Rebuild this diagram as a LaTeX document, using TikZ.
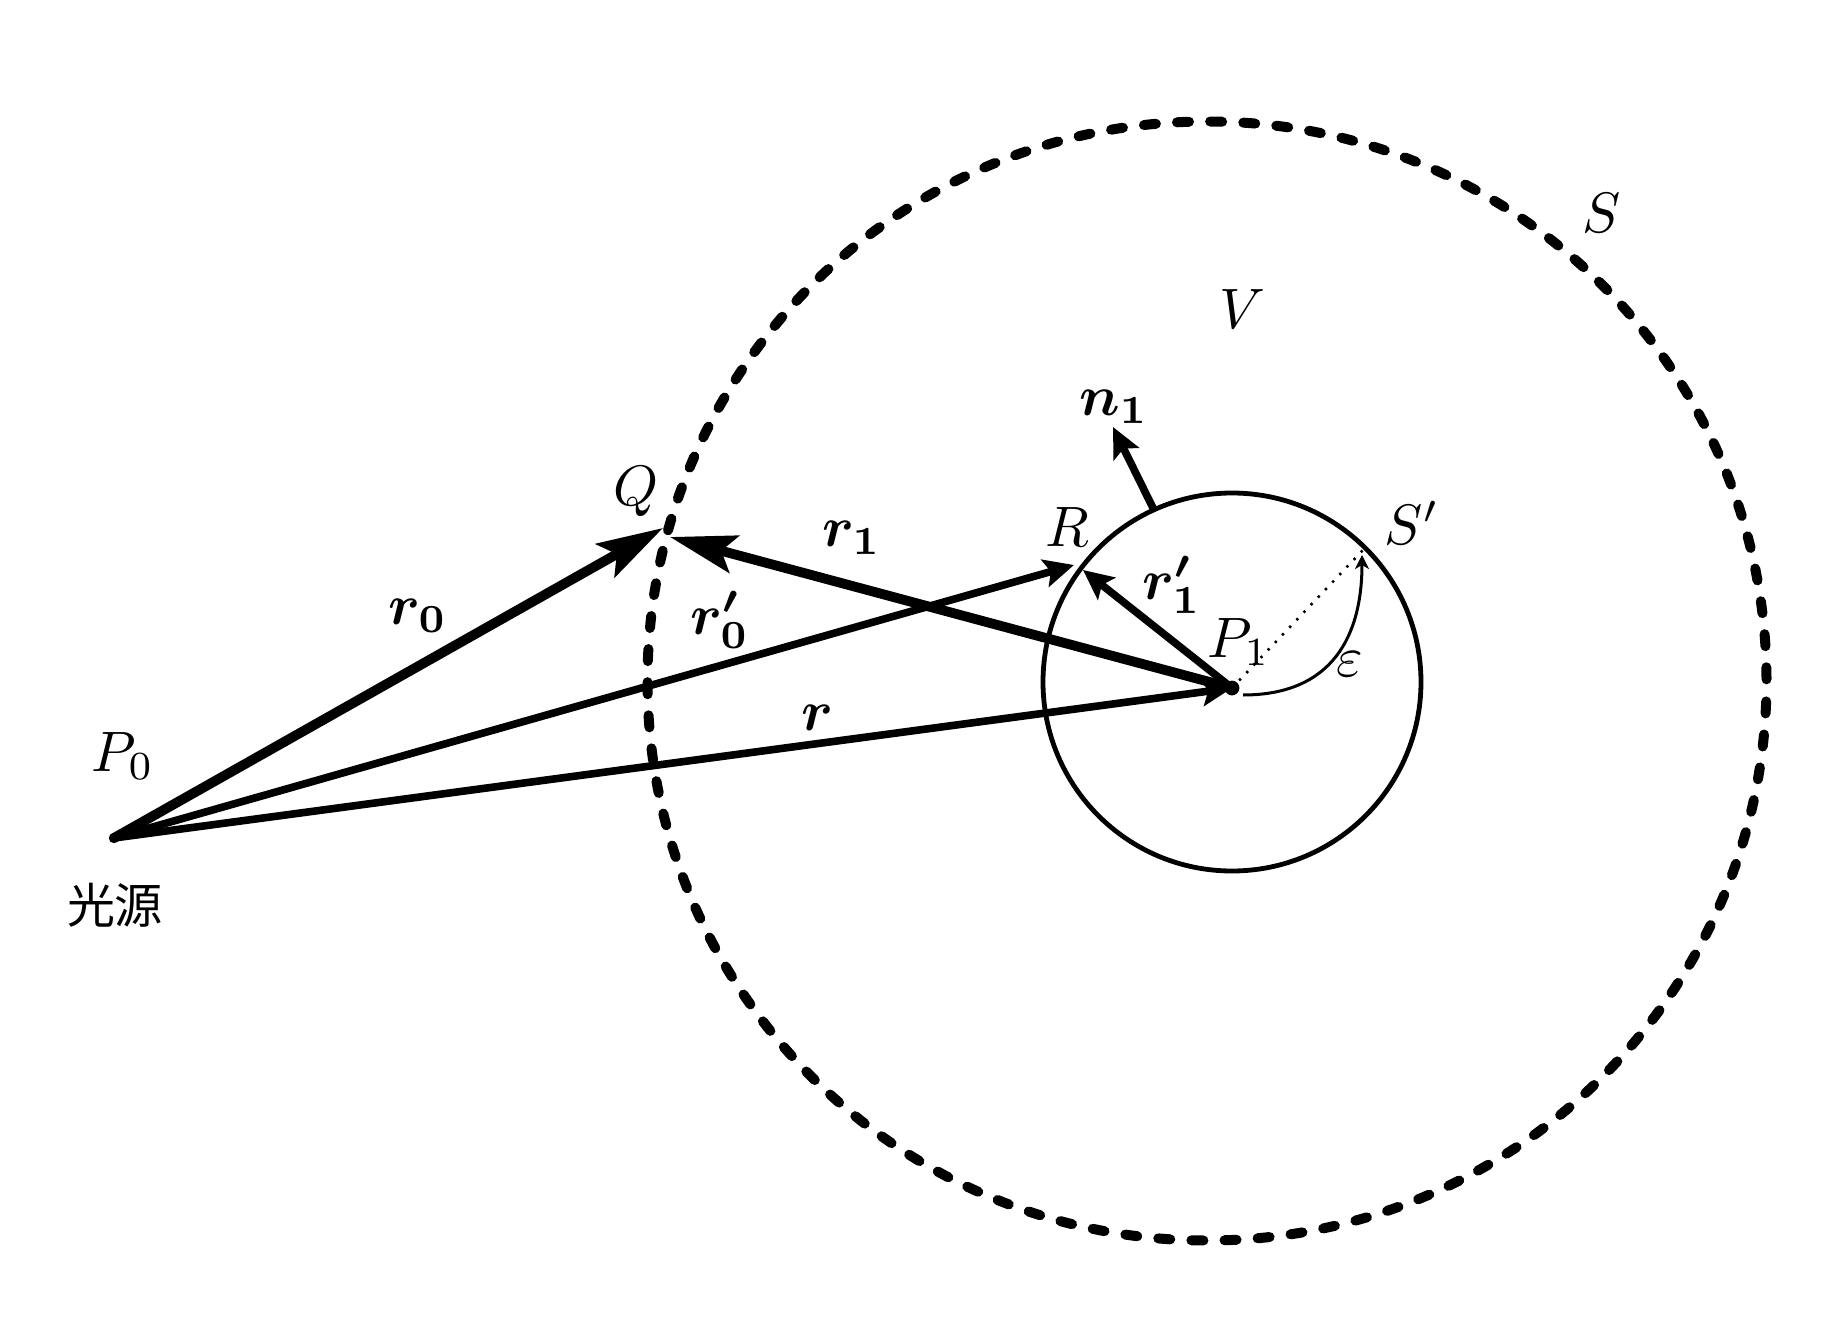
\documentclass[tikz,border=0pt]{standalone}
\usepackage[no-math]{fontspec}
\usepackage{amsmath,bm}
\newfontfamily\cjkfont{Noto Sans CJK JP}
\usetikzlibrary{arrows.meta}
\tikzset{
  lbl/.style={inner sep=0pt,scale=2.85},
  bigtip/.style={-{Stealth[length=33pt,width=19pt,inset=6.5pt]}},
  midtip/.style={-{Stealth[length=15pt,width=14pt,inset=3pt]}},
  smalltip/.style={-{Stealth[length=7pt,width=7pt,inset=2pt]}},
  heavy/.style={line width=4.9pt},
  medium/.style={line width=3.8pt},
  outer/.style={line width=5pt,line cap=round,dash pattern=on 6pt off 10.58pt,dash phase=15.73pt},
  inner/.style={line width=2.4pt},
}
\begin{document}
\begin{tikzpicture}[x=0.5pt,y=-0.5pt]
\useasboundingbox (0,0) rectangle (1822,1322);
\coordinate (Cbig) at (1207,681);
\coordinate (Csmall) at (1232,682);
\coordinate (Pzero) at (114,838);
\coordinate (Pone) at (1232,688);
\coordinate (Qa) at (663,528);
\coordinate (Qb) at (670,537);
\coordinate (Ra) at (1074,565);
\coordinate (Rb) at (1083,570);
\coordinate (Nstart) at (1153,508);
\coordinate (Nend) at (1113,427);
\coordinate (Dot) at (1363,550);
\coordinate (Estart) at (1243,695);
\coordinate (Eend) at (1362,555);
\draw[outer] (Cbig) circle[radius=279.75pt];
\draw[inner] (Csmall) circle[radius=94.5pt];
\draw[heavy,bigtip] (Pzero) -- (Qa);
\draw[heavy,bigtip] (Pone) -- (Qb);
\draw[medium,midtip] (Pzero) -- (Ra);
\draw[medium,midtip] (Pzero) -- (Pone);
\draw[medium,midtip] (Pone) -- (Rb);
\draw[medium,midtip] (Nstart) -- (Nend);
\draw[line width=1.3pt,dash pattern=on 1.2pt off 4pt] (Pone) -- (Dot);
\draw[line width=1.5pt,smalltip] (Estart) .. controls (1333,695) and (1362,635) .. (Eend);
\fill (Pone) circle[radius=3.7pt];
\fill (Pzero) circle[radius=2.6pt];
\node[lbl] (lS) at (1602,213) {$S$};
\node[lbl] (lV) at (1242,309) {$V$};
\node[lbl] (ln) at (1114,407) {$\bm{n_1}$};
\node[lbl] (lQ) at (636,492) {$Q$};
\node[lbl] (lR) at (1067,527) {$R$};
\node[lbl] (lrone) at (852,538) {$\bm{r_1}$};
\node[lbl] (lrzp) at (720,620) {$\bm{r'_0}$};
\node[lbl] (lr) at (817,718) {$\bm{r}$};
\node[lbl] (lronep) at (1172,585) {$\bm{r'_1}$};
\node[lbl] (lPone) at (1239,642) {$P_1$};
\node[lbl] (lSp) at (1412,523) {$S'$};
\node[lbl] (leps) at (1350,664) {$\varepsilon$};
\node[lbl] (lPzero) at (123,756) {$P_0$};
\node[lbl] (lrz) at (418,616) {$\bm{r_0}$};
\node[inner sep=0pt,font=\cjkfont\fontsize{24}{24}\selectfont] (lsrc) at (115,905) {光源};
\end{tikzpicture}
\end{document}
